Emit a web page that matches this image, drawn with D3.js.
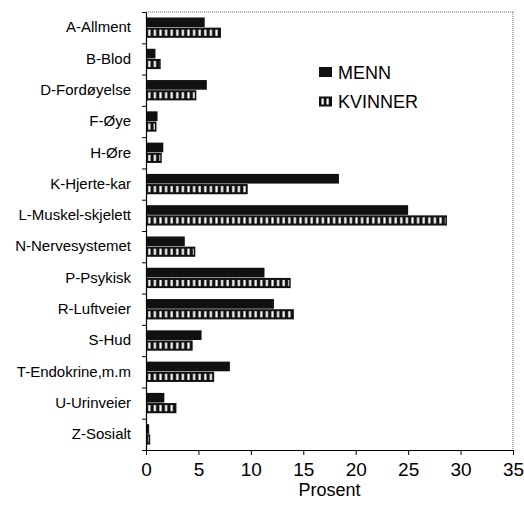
<!DOCTYPE html>
<html><head><meta charset="utf-8">
<script src="https://cdn.jsdelivr.net/npm/d3@7"></script>
<style>
html,body{margin:0;padding:0;background:#fff;}
svg{display:block;font-family:"Liberation Sans",Arial,sans-serif;}
</style></head>
<body>
<svg id="chart" width="524" height="511"></svg>
<script>
const categories = ["A-Allment","B-Blod","D-Fordøyelse","F-Øye","H-Øre","K-Hjerte-kar","L-Muskel-skjelett","N-Nervesystemet","P-Psykisk","R-Luftveier","S-Hud","T-Endokrine,m.m","U-Urinveier","Z-Sosialt"];
const menn    = [5.6, 0.9, 5.8, 1.1, 1.65, 18.4, 25.0, 3.7, 11.3, 12.2, 5.3, 8.0, 1.75, 0.3];
const kvinner = [7.15, 1.4, 4.8, 1.0, 1.5, 9.7, 28.7, 4.7, 13.8, 14.1, 4.45, 6.5, 2.9, 0.4];
const seriesNames = ["MENN","KVINNER"];
const xTicks = [0,5,10,15,20,25,30,35];
const xTitle = "Prosent";

const svg = d3.select("#chart");
const L = 146, R = 513, T = 12, B = 450;

const x = d3.scaleLinear().domain([0,35]).range([L,R]);
const y = d3.scaleBand().domain(categories).range([T,B]).paddingInner(0.35).paddingOuter(0.175);
const sub = d3.scaleBand().domain(seriesNames).range([0, y.bandwidth()]).padding(0);

const defs = svg.append("defs");
const pat = defs.append("pattern").attr("id","stripes").attr("patternUnits","userSpaceOnUse")
  .attr("x", L).attr("y",0).attr("width",5.6).attr("height",40);
pat.append("rect").attr("width",5.6).attr("height",40).attr("fill","#111");
pat.append("rect").attr("x",2.2).attr("width",2.2).attr("height",40).attr("fill","#fff");

// frame (dotted top/right)
svg.append("line").attr("x1",L).attr("x2",R).attr("y1",T).attr("y2",T)
  .attr("stroke","#666").attr("stroke-width",1).attr("stroke-dasharray","1,1");
svg.append("line").attr("x1",R).attr("x2",R).attr("y1",T).attr("y2",B)
  .attr("stroke","#666").attr("stroke-width",1).attr("stroke-dasharray","1,1");

const rows = categories.map((c,i)=>({c, m:menn[i], k:kvinner[i]}));

// MENN bars
svg.append("g").selectAll("rect").data(rows).join("rect")
  .attr("x", x(0)).attr("y", d=>y(d.c)+sub("MENN"))
  .attr("width", d=>x(d.m)-x(0)).attr("height", sub.bandwidth()-0.5)
  .attr("fill","#111");

// KVINNER bars
const kg = svg.append("g").selectAll("g").data(rows).join("g");
kg.append("rect")
  .attr("x", x(0)).attr("y", d=>y(d.c)+sub("KVINNER"))
  .attr("width", d=>x(d.k)-x(0)).attr("height", sub.bandwidth())
  .attr("fill","#111");
kg.append("rect")
  .attr("x", x(0)+1).attr("y", d=>y(d.c)+sub("KVINNER")+2)
  .attr("width", d=>Math.max(0, x(d.k)-x(0)-2.5)).attr("height", sub.bandwidth()-4)
  .attr("fill","url(#stripes)");

// x axis
const xAxis = svg.append("g").attr("transform",`translate(0,${B})`)
  .call(d3.axisBottom(x).tickValues(xTicks).tickSize(5).tickPadding(8).tickSizeOuter(0));
xAxis.select(".domain").attr("stroke","#000").attr("stroke-width",1.2);
xAxis.selectAll(".tick line").attr("stroke","#000");
xAxis.selectAll("text").attr("font-size",19).attr("fill","#000")
  .attr("font-family","'Liberation Sans',Arial,sans-serif");

svg.append("text").attr("x",(x(0)+x(35))/2).attr("y",496).attr("text-anchor","middle")
  .attr("font-size",18).attr("fill","#000").text(xTitle);

// y axis: labels at band centers
const yAxis = svg.append("g").attr("transform",`translate(${L},0)`)
  .call(d3.axisLeft(y).tickSize(0).tickPadding(15));
yAxis.select(".domain").attr("stroke","#000").attr("stroke-width",1.2);
yAxis.selectAll("text").attr("font-size",15).attr("fill","#000")
  .attr("font-family","'Liberation Sans',Arial,sans-serif");

// boundary ticks
const yb = d3.scaleLinear().domain([0,categories.length]).range([T,B]);
const bt = svg.append("g").attr("transform",`translate(${L},0)`)
  .call(d3.axisLeft(yb).ticks(categories.length).tickFormat("").tickSize(4).tickSizeOuter(0));
bt.select(".domain").remove();
bt.selectAll(".tick line").attr("stroke","#000");

// legend
const lg = svg.append("g");
const legY = [67, 96.5];
seriesNames.forEach((s,i)=>{
  const g = lg.append("g").attr("transform",`translate(319,${legY[i]})`);
  if (s==="MENN") {
    g.append("rect").attr("width",13).attr("height",10).attr("fill","#111");
  } else {
    g.append("rect").attr("width",13).attr("height",10).attr("fill","#111");
    g.append("rect").attr("x",2.5).attr("y",2).attr("width",2.2).attr("height",6).attr("fill","#fff");
    g.append("rect").attr("x",7.5).attr("y",2).attr("width",2.2).attr("height",6).attr("fill","#fff");
  }
  g.append("text").attr("x",19).attr("y",11.5).attr("font-size",18).attr("fill","#000").text(s);
});
</script>
</body></html>
